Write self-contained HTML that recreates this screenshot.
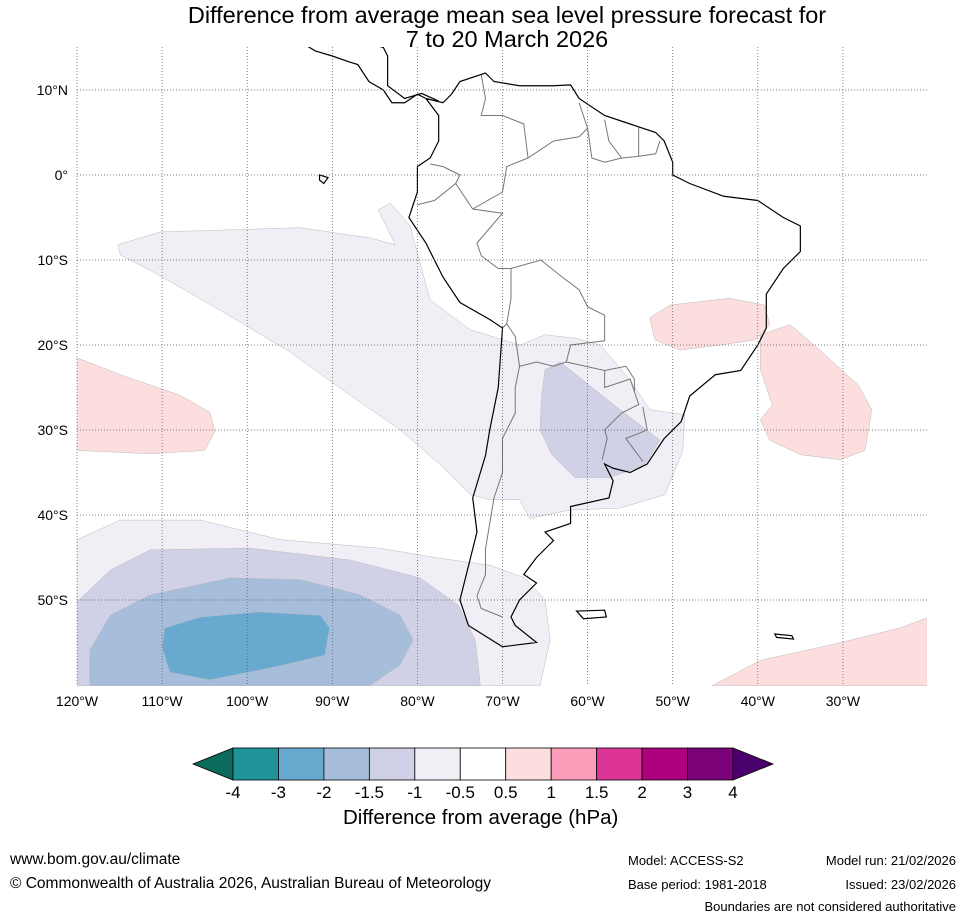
<!DOCTYPE html>
<html><head><meta charset="utf-8"><style>
body{margin:0;background:#fff;font-family:"Liberation Sans",sans-serif;}
#wrap{position:relative;width:965px;height:919px;overflow:hidden;}
.t{position:absolute;white-space:nowrap;color:#000;}
</style></head><body>
<div id="wrap">
<div class="t" style="left:0;width:1014px;top:3px;text-align:center;font-size:23.5px;line-height:24px;">Difference from average mean sea level pressure forecast for<br>7 to 20 March 2026</div>
<svg id="svg" width="965" height="919" style="position:absolute;left:0;top:0"></svg>
<div class="t" style="left:343px;top:806px;font-size:20.5px;">Difference from average (hPa)</div>
<div class="t" style="left:10px;top:851px;font-size:15.5px;">www.bom.gov.au/climate</div>
<div class="t" style="left:10px;top:875px;font-size:15.5px;">© Commonwealth of Australia 2026, Australian Bureau of Meteorology</div>
<div class="t" style="left:628px;top:853px;font-size:13px;">Model: ACCESS-S2</div>
<div class="t" style="left:628px;top:877px;font-size:13px;">Base period: 1981-2018</div>
<div class="t" style="right:9px;top:853px;font-size:13px;">Model run: 21/02/2026</div>
<div class="t" style="right:9px;top:877px;font-size:13px;">Issued: 23/02/2026</div>
<div class="t" style="right:9px;top:899px;font-size:13px;">Boundaries are not considered authoritative</div>
</div>
<script>
const lonTicks=[-120,-110,-100,-90,-80,-70,-60,-50,-40,-30];
const latTicks=[10,0,-10,-20,-30,-40,-50];
const cbLevels=[-4,-3,-2,-1.5,-1,-0.5,0.5,1,1.5,2,3,4];
const cbColors=['#1f9399','#67a9cf','#a6bddb','#d0d1e6','#f1eef6','#ffffff','#fddede','#f99db8','#dd3497','#ae017e','#7a0177'];
const cbLow='#0b6b5c', cbHigh='#4a006a';
const regions=[
 {v:-0.75,pts:[[-115.2,-8.2],[-110.2,-6.7],[-93.8,-6.2],[-85.6,-7.4],[-82.6,-8.2],[-84.6,-4.1],[-83.2,-3.3],[-80.9,-5.9],[-78.5,-14.7],[-73.8,-18.2],[-67.9,-20],[-65,-18.8],[-61.5,-19.2],[-58.5,-20],[-55,-24.1],[-52.7,-27.6],[-48.6,-28.2],[-48.8,-32.4],[-50.9,-37.6],[-56.2,-39.2],[-62,-39.4],[-66.8,-40.4],[-68,-38.2],[-71.5,-38.2],[-73.8,-37.6],[-77.3,-34.1],[-82,-30],[-87.9,-25.9],[-95,-20.8],[-103.2,-15.9],[-111.4,-11.2],[-114.9,-9.4]]},
 {v:-1.25,pts:[[-65,-22.9],[-63.2,-22],[-59.1,-25.3],[-56.2,-27.6],[-53.3,-29.8],[-51.5,-31.2],[-53.3,-34.1],[-57.4,-35.6],[-61.5,-35.6],[-64.2,-32.9],[-65.6,-30],[-65.4,-25.9]]},
 {v:0.75,pts:[[-120,-21.5],[-114.9,-23.5],[-107.9,-25.9],[-104.4,-27.9],[-103.8,-30.2],[-105,-32.4],[-111.4,-32.8],[-120,-32.4]]},
 {v:0.75,pts:[[-52.7,-16.8],[-50.3,-15.3],[-43.3,-14.5],[-39.2,-15.3],[-38.6,-17.6],[-40.3,-19.4],[-44.4,-20],[-49.1,-20.6],[-52.1,-19.4]]},
 {v:0.75,pts:[[-39.7,-18.8],[-36.2,-17.6],[-32.7,-20.6],[-28.2,-24.7],[-26.6,-27.6],[-27.4,-32.4],[-30.3,-33.5],[-35,-32.9],[-38.6,-31.2],[-39.7,-28.8],[-38.3,-27.1],[-39.7,-22.9]]},
 {v:0.75,pts:[[-45.4,-60.1],[-39.7,-57.1],[-31.5,-55.3],[-23.3,-53.3],[-20.1,-52.1],[-20.1,-60.1]]},
 {v:-0.75,pts:[[-120,-42.9],[-114.9,-40.6],[-105.5,-40.6],[-96.1,-42.9],[-84.4,-43.9],[-77.3,-45.1],[-71.5,-45.9],[-67.4,-47.4],[-65,-50],[-64.4,-54.7],[-65.6,-60.1],[-120,-60.1]]},
 {v:-1.25,pts:[[-120,-50.2],[-116.1,-46.5],[-111.4,-44.1],[-99.7,-43.9],[-87.9,-45.3],[-79.7,-47.4],[-75.2,-50.6],[-73.2,-54.7],[-72.6,-60.1],[-120,-60.1]]},
 {v:-1.75,pts:[[-118.5,-60.1],[-118.5,-55.9],[-116.1,-51.8],[-111.4,-49.4],[-102,-47.4],[-93.8,-47.6],[-86.7,-49.4],[-82,-51.8],[-80.5,-54.7],[-82,-57.6],[-85.6,-60.1]]},
 {v:-2.5,pts:[[-109.7,-53.3],[-105.5,-52],[-98.5,-51.4],[-91.4,-51.8],[-90.3,-53.3],[-90.9,-56.5],[-97.3,-58],[-104.4,-59.4],[-109.1,-58.5],[-110,-55.6]]}
];
const coast=[[-79,9],[-77,8.5],[-76,9.5],[-75,11],[-72,12],[-71,11],[-68,10.5],[-64,10.5],[-62,10.6],[-61,9],[-58,7],[-55,6],[-52,5],[-51,4],[-50,1.5],[-50,0],[-48,-1],[-44,-2.5],[-40,-3],[-37,-5],[-35,-6],[-35,-9],[-37,-11],[-39,-14],[-39,-18],[-40,-20],[-42,-23],[-45,-23.5],[-48,-26],[-49,-29],[-51,-31],[-53,-34],[-55,-35],[-57,-34.5],[-58,-34],[-57,-36],[-57.5,-38],[-62,-39],[-62,-41],[-65,-42],[-64,-43],[-66,-45],[-67.5,-47],[-66,-48],[-68,-50],[-69,-52],[-68.5,-53],[-66,-55],[-70,-55.5],[-74,-53],[-75,-50],[-74,-46],[-73,-42],[-73.5,-38],[-72,-33],[-71.5,-30],[-70.5,-25],[-70,-18],[-71.5,-17],[-75,-15],[-77,-12],[-79,-8],[-81,-5],[-80,-2],[-80,1],[-78.5,2],[-77.5,4],[-77.5,7],[-79,9]];
const centralAm=[[-79,9],[-80,9.5],[-81.5,8.5],[-83,8.5],[-84,10],[-85.7,11],[-87,13],[-88,13.3],[-90,14],[-92,14.6],[-93,15.2]];
const centralAmN=[[-77.5,8.7],[-79.5,9.6],[-81.5,9],[-83.5,10.5],[-83.5,14],[-84,15],[-86,15.6],[-88,15.8]];
const islands=[
 [[-61.3,-51.3],[-58,-51.2],[-57.8,-52],[-60.5,-52.2]],
 [[-38,-54],[-36,-54.2],[-35.8,-54.6],[-37.8,-54.4]],
 [[-91.5,0],[-90.5,-0.3],[-91,-1],[-91.5,-0.6]]
];
const borders=[
 [[-80,-3.5],[-78,-3],[-75.5,-1],[-75,0],[-77,1],[-78.5,1.3]],
 [[-75.5,-1],[-73.5,-4],[-70,-4.5],[-73,-8],[-72.5,-9.5],[-70.5,-11],[-69,-11],[-69,-14.5],[-69.5,-17.5],[-70,-18]],
 [[-69,-11],[-65.5,-10],[-63,-12],[-61,-13.5],[-60,-15.5],[-58,-16.5],[-58,-19.5],[-62,-20],[-62.5,-22],[-64,-22.5],[-66,-22],[-68,-22.5],[-68.5,-19],[-69.5,-17.5]],
 [[-68,-22.5],[-68.5,-25],[-68.5,-28],[-70,-31],[-70,-35],[-71,-38],[-71.5,-41],[-72,-44],[-72,-47],[-73,-49.5],[-72.5,-51],[-70,-52]],
 [[-62.5,-22],[-58,-23],[-58,-25],[-55,-24],[-54.5,-25.5],[-54,-27],[-56,-28],[-58,-30],[-57.7,-31],[-58.3,-33.5]],
 [[-58,-23],[-55.5,-22.5],[-54.5,-24],[-54.5,-25.5]],
 [[-53.5,-27.3],[-53,-30],[-55.5,-31],[-53.5,-33.7]],
 [[-73.5,-4],[-70,-2],[-69.5,1],[-67,2],[-64,4],[-61,4.5],[-60,5.5],[-61,8.5]],
 [[-72.5,11.8],[-72,9],[-72.5,7],[-70,7],[-67.5,6],[-67,2]],
 [[-60,5.5],[-59.5,2],[-58,1.5],[-56,2],[-54,2.2],[-52,2.5],[-51.5,4]],
 [[-58,6.5],[-57.5,4],[-56,2]],[[-54,5.7],[-54,2.2]]
];

const X0=77,Y0=47,X1=927,Y1=686;
const xs=lon=>X0+(lon+120)*8.51;
const ys=lat=>175-lat*8.5;
const svg=document.getElementById('svg');
const NS='http://www.w3.org/2000/svg';
function mk(tag,attrs,parent){const e=document.createElementNS(NS,tag);for(const k in attrs)e.setAttribute(k,attrs[k]);(parent||svg).appendChild(e);return e;}
function colorFor(v){if(v<cbLevels[0])return cbLow;for(let i=0;i<cbColors.length;i++){if(v<cbLevels[i+1])return cbColors[i];}return cbHigh;}
const pts=a=>a.map(q=>xs(q[0])+','+ys(q[1])).join(' ');
const clip=mk('clipPath',{id:'mc'});mk('rect',{x:X0,y:Y0,width:X1-X0,height:Y1-Y0},clip);
const g=mk('g',{'clip-path':'url(#mc)'});
regions.forEach((r,i)=>{
 const p=mk('polygon',{points:pts(r.pts),fill:colorFor(r.v),stroke:'#bbb','stroke-width':0.5},g);
 
 
});
borders.forEach(b=>{
 const l=mk('polyline',{points:pts(b),fill:'none',stroke:'#777','stroke-width':1},g);
 
 
});
const cl=mk('polyline',{points:pts(coast),fill:'none',stroke:'#000','stroke-width':1.2},g);


[centralAm,centralAmN].forEach((c,i)=>{
 const l=mk('polyline',{points:pts(c),fill:'none',stroke:'#000','stroke-width':1.2},g);
 
 
});
islands.forEach(c=>{
 const l=mk('polygon',{points:pts(c),fill:'none',stroke:'#000','stroke-width':1.2},g);
 
 
});
lonTicks.forEach(l=>{
 const x=xs(l);
 const ln=mk('line',{x1:x,x2:x,y1:Y0,y2:Y1,stroke:'#555','stroke-width':0.7,'stroke-dasharray':'1,2'});
 
 
 const t=mk('text',{x:x,y:706,'font-size':14,'text-anchor':'middle','font-family':'Liberation Sans'});
 t.textContent=(-l)+'°W';
 
 
});
latTicks.forEach(l=>{
 const y=ys(l);
 const ln=mk('line',{x1:X0,x2:X1,y1:y,y2:y,stroke:'#555','stroke-width':0.7,'stroke-dasharray':'1,2'});
 
 
 const t=mk('text',{x:68,y:y+5,'font-size':14,'text-anchor':'end','font-family':'Liberation Sans'});
 t.textContent=l>0?l+'°N':l<0?(-l)+'°S':'0°';
 
 
});
const cbX0=233,cbX1=733,cbY=748,cbH=32,bw=(cbX1-cbX0)/cbColors.length;
const lt=mk('polygon',{points:`${cbX0},${cbY} ${cbX0},${cbY+cbH} 193,${cbY+cbH/2}`,fill:cbLow,stroke:'#000','stroke-width':0.8});


const rt=mk('polygon',{points:`${cbX1},${cbY} ${cbX1},${cbY+cbH} 773,${cbY+cbH/2}`,fill:cbHigh,stroke:'#000','stroke-width':0.8});


cbColors.forEach((c,i)=>{
 const r=mk('rect',{x:cbX0+i*bw,y:cbY,width:bw,height:cbH,fill:c,stroke:'#000','stroke-width':0.8});
 
 
});
cbLevels.forEach((v,i)=>{
 const t=mk('text',{x:cbX0+i*bw,y:798,'font-size':17,'text-anchor':'middle','font-family':'Liberation Sans'});
 t.textContent=v;
 
 
});
</script>
</body></html>
